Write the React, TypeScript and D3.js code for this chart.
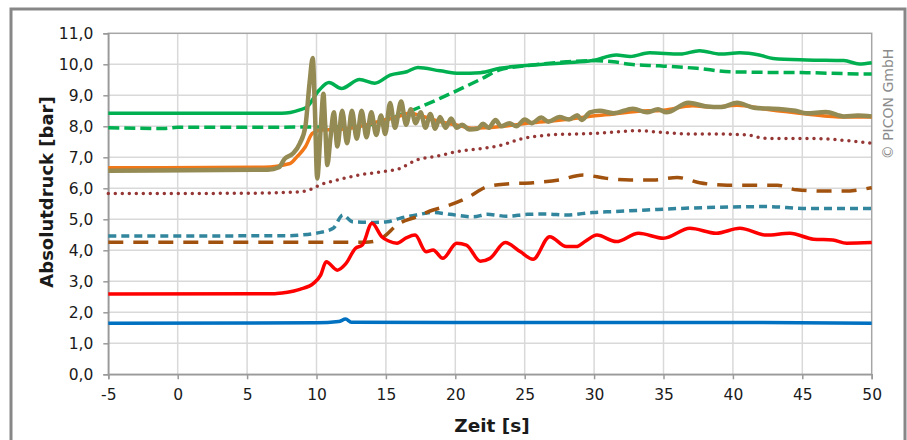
import { useEffect, useRef } from 'react';
import * as d3 from 'd3';

type Pt = [number, number];

// Zeit [s] / Absolutdruck [bar] pairs
const greenSolid: Pt[] = [
  [-5, 8.42], [7.5, 8.42], [8.8, 8.53], [9.3, 8.62], [10.2, 9.17], [10.9, 9.41], [11.8, 9.22],
  [13.1, 9.51], [14.2, 9.39], [15.3, 9.65], [16.5, 9.76], [17.3, 9.9], [18.9, 9.79], [20.3, 9.71],
  [21.8, 9.73], [23.2, 9.87], [25.6, 9.98], [28, 10.05], [29.9, 10.12], [31.6, 10.3], [32.6, 10.25],
  [34, 10.37], [36.2, 10.33], [37.6, 10.44], [39.1, 10.33], [40.5, 10.37], [41.9, 10.3], [42.9, 10.19],
  [45.3, 10.14], [48, 10.12], [49.1, 10.01], [50, 10.05],
];

const greenDashed: Pt[] = [
  [-5, 7.95], [-1, 7.93], [0, 7.97], [5, 7.97], [13.1, 7.99], [14.6, 8.15], [16, 8.36], [17.5, 8.63],
  [18.9, 8.9], [20.3, 9.19], [21.8, 9.51], [23.2, 9.82], [25.6, 9.98], [28, 10.08], [29.9, 10.12],
  [31.4, 10.08], [32.6, 10.0], [34.7, 9.95], [37.4, 9.87], [39.8, 9.76], [42.4, 9.74], [45.3, 9.73],
  [49.3, 9.69], [50, 9.69],
];

const orange: Pt[] = [
  [-5, 6.66], [6.2, 6.68], [8.1, 6.8], [8.6, 7.02], [9.2, 7.34], [9.7, 7.77], [10.3, 7.88], [11.5, 7.9],
  [12.4, 7.94], [13.6, 8.05], [14.8, 8.2], [15.8, 8.3], [16.7, 8.42], [17.8, 8.3], [18.9, 8.15],
  [20, 8.05], [21.3, 7.94], [23.2, 7.99], [25.6, 8.12], [28, 8.22], [29.9, 8.33], [31.4, 8.4],
  [33, 8.48], [35, 8.52], [37.1, 8.66], [38.5, 8.62], [40.3, 8.68], [42.4, 8.55], [45.3, 8.4],
  [48, 8.3], [50, 8.3],
];

const olive: Pt[] = [
  [-5, 6.57], [6.5, 6.6], [7.3, 6.68], [7.7, 6.95], [8.3, 7.12], [8.8, 7.45], [9.2, 8.0], [9.5, 9.4],
  [9.73, 10.2], [9.88, 8.6], [10.05, 6.32], [10.3, 7.9], [10.5, 9.05], [10.62, 8.1], [10.78, 6.75],
  [11.0, 7.6], [11.25, 8.45], [11.5, 7.35], [11.85, 8.5], [12.2, 7.45], [12.55, 8.5], [12.9, 7.6],
  [13.25, 8.5], [13.6, 7.65], [13.95, 8.45], [14.3, 7.72], [14.65, 8.35], [14.95, 7.75], [15.3, 8.75],
  [15.65, 7.95], [16.1, 8.8], [16.45, 8.05], [16.8, 8.55], [17.15, 8.1], [17.5, 8.45], [17.85, 7.95],
  [18.2, 8.4], [18.55, 7.92], [18.9, 8.3], [19.3, 7.95], [19.7, 8.25], [20.1, 7.95], [20.5, 8.05],
  [21.0, 7.9], [21.6, 7.92], [22.0, 8.08], [22.4, 7.95], [22.9, 8.2], [23.3, 8.0], [23.9, 8.1],
  [24.4, 8.0], [25.0, 8.22], [25.5, 8.1], [26.2, 8.28], [26.7, 8.15], [27.5, 8.3], [28.2, 8.22],
  [28.8, 8.36], [29.1, 8.2], [29.7, 8.45], [30.4, 8.5], [31.4, 8.42], [32.8, 8.57], [33.8, 8.45],
  [34.6, 8.55], [35.2, 8.45], [36.8, 8.76], [38, 8.65], [39.2, 8.62], [40.3, 8.76], [41.5, 8.6],
  [43.5, 8.55], [44.5, 8.5], [45.3, 8.42], [46.7, 8.46], [48, 8.32], [49, 8.35], [50, 8.32],
];

const darkRedDotted: Pt[] = [
  [-5, 5.83], [5, 5.84], [8.5, 5.88], [9.5, 5.95], [10.2, 6.1], [11.5, 6.27], [13.1, 6.43],
  [14.8, 6.54], [16, 6.64], [17.2, 6.91], [18.7, 7.04], [20.1, 7.18], [22, 7.29], [23.2, 7.38],
  [24.7, 7.59], [26.8, 7.72], [29.9, 7.77], [31.4, 7.81], [33.1, 7.86], [35, 7.8], [36.9, 7.75],
  [39.1, 7.75], [41, 7.72], [42.4, 7.61], [45.3, 7.61], [48.2, 7.54], [50, 7.45],
];

const brownDashed: Pt[] = [
  [-5, 4.26], [13.5, 4.26], [14.6, 4.35], [15.0, 4.49], [15.8, 4.82], [17.2, 5.08], [18.4, 5.3],
  [19.4, 5.43], [20.8, 5.68], [22.3, 6.05], [23.7, 6.14], [25.6, 6.18], [27.5, 6.27], [29.2, 6.43],
  [30.9, 6.32], [32.6, 6.27], [34.3, 6.27], [36, 6.35], [37.6, 6.18], [39.6, 6.1], [41.4, 6.1],
  [43.2, 6.1], [44.6, 5.95], [46.5, 5.91], [48, 5.91], [50, 6.02],
];

const tealDashed: Pt[] = [
  [-5, 4.46], [8, 4.47], [8.8, 4.49], [10.2, 4.57], [11.2, 4.71], [11.9, 5.14], [12.6, 4.92],
  [14.1, 4.9], [15.1, 4.92], [16, 5.03], [17.2, 5.14], [18.4, 5.22], [19.6, 5.16], [21.3, 5.08],
  [22.3, 5.16], [23.7, 5.1], [25.2, 5.16], [26.6, 5.17], [28, 5.14], [29.9, 5.22], [31.4, 5.25],
  [33.8, 5.3], [36.2, 5.35], [39.1, 5.39], [42.4, 5.41], [45.3, 5.35], [50, 5.35],
];

const red: Pt[] = [
  [-5, 2.59], [7, 2.6], [7.8, 2.64], [8.8, 2.74], [9.8, 2.94], [10.3, 3.2], [10.7, 3.63], [11.5, 3.36],
  [12.1, 3.56], [12.8, 4.06], [13.3, 4.17], [14, 4.87], [14.7, 4.44], [15.2, 4.3], [15.8, 4.23],
  [16.5, 4.41], [17.1, 4.49], [17.9, 3.95], [18.4, 4.01], [19.1, 3.74], [20.1, 4.23], [20.8, 4.17],
  [21.8, 3.65], [22.5, 3.74], [23.6, 4.25], [24.7, 3.95], [25.6, 3.71], [26.8, 4.44], [28, 4.12],
  [28.7, 4.12], [29.4, 4.3], [30.2, 4.49], [31.6, 4.28], [33.2, 4.55], [35, 4.39], [36.9, 4.71],
  [38.8, 4.55], [40.5, 4.71], [42.4, 4.49], [44.1, 4.55], [45.8, 4.36], [47.2, 4.33], [48.2, 4.23],
  [50, 4.25],
];

const blue: Pt[] = [
  [-5, 1.65], [10, 1.66], [11.6, 1.7], [12.1, 1.78], [12.5, 1.68], [20, 1.67], [30, 1.67], [40, 1.67],
  [50, 1.65],
];

const xTicks = [-5, 0, 5, 10, 15, 20, 25, 30, 35, 40, 45, 50];
const yTicks = [0, 1, 2, 3, 4, 5, 6, 7, 8, 9, 10, 11];

const W = 907;
const H = 440;
const FONT = '"DejaVu Sans", Verdana, sans-serif';

export default function App() {
  const svgRef = useRef<SVGSVGElement>(null);

  useEffect(() => {
    if (!svgRef.current) return;
    const svg = d3.select(svgRef.current);
    svg.selectAll('*').remove();

    const margin = { top: 33.3, right: W - 871.7, bottom: H - 374.3, left: 108.3 };
    const innerWidth = W - margin.left - margin.right;
    const innerHeight = H - margin.top - margin.bottom;

    // outer frame
    svg.append('rect')
      .attr('x', 11).attr('y', 9)
      .attr('width', 894).attr('height', 440)
      .attr('fill', '#fff')
      .attr('stroke', '#878787')
      .attr('stroke-width', 3);

    const g = svg.append('g').attr('transform', `translate(${margin.left},${margin.top})`);

    const x = d3.scaleLinear().domain([-5, 50]).range([0, innerWidth]);
    const y = d3.scaleLinear().domain([0, 11]).range([innerHeight, 0]);

    // Gridlines
    g.append('g')
      .selectAll('line')
      .data(yTicks.slice(1, -1))
      .join('line')
      .attr('x1', 0).attr('x2', innerWidth)
      .attr('y1', (d) => y(d)).attr('y2', (d) => y(d))
      .attr('stroke', '#d9d9d9').attr('stroke-width', 1.5);
    g.append('g')
      .selectAll('line')
      .data(xTicks.slice(1, -1))
      .join('line')
      .attr('y1', 0).attr('y2', innerHeight)
      .attr('x1', (d) => x(d)).attr('x2', (d) => x(d))
      .attr('stroke', '#d9d9d9').attr('stroke-width', 1.5);

    // plot border
    g.append('rect')
      .attr('width', innerWidth).attr('height', innerHeight)
      .attr('fill', 'none').attr('stroke', '#a6a6a6').attr('stroke-width', 1.5);

    // Axes
    g.append('g')
      .call(d3.axisLeft(y).tickValues(yTicks).tickSize(5).tickPadding(10)
        .tickFormat((d) => d3.format('.1f')(d as number).replace('.', ',')))
      .call((ax) => ax.select('.domain').attr('stroke', '#9a9a9a').attr('stroke-width', 1.5))
      .call((ax) => ax.selectAll('.tick line').attr('stroke', '#9a9a9a').attr('stroke-width', 1.5))
      .call((ax) => ax.selectAll('.tick text')
        .attr('fill', '#1a1a1a').attr('font-size', '15.5px').attr('font-family', FONT));

    g.append('g')
      .attr('transform', `translate(0,${innerHeight})`)
      .call(d3.axisBottom(x).tickValues(xTicks).tickSize(5).tickPadding(10).tickFormat((d) => String(d)))
      .call((ax) => ax.select('.domain').attr('stroke', '#9a9a9a').attr('stroke-width', 1.5))
      .call((ax) => ax.selectAll('.tick line').attr('stroke', '#9a9a9a').attr('stroke-width', 1.5))
      .call((ax) => ax.selectAll('.tick text')
        .attr('fill', '#1a1a1a').attr('font-size', '15.5px').attr('font-family', FONT));

    // Series
    const line = d3.line<Pt>()
      .x((d) => x(d[0]))
      .y((d) => y(d[1]))
      .curve(d3.curveMonotoneX);

    const series: { data: Pt[]; stroke: string; width: number; dash?: string; cap?: string }[] = [
      { data: tealDashed, stroke: '#31859c', width: 3.5, dash: '8,5' },
      { data: brownDashed, stroke: '#a0520e', width: 3.5, dash: '15,10' },
      { data: darkRedDotted, stroke: '#953735', width: 3.5, dash: '0,7', cap: 'round' },
      { data: blue, stroke: '#0070c0', width: 3.5 },
      { data: red, stroke: '#ff0000', width: 3.5 },
      { data: greenDashed, stroke: '#00b050', width: 3.5, dash: '11,5' },
      { data: greenSolid, stroke: '#00b050', width: 3.5 },
      { data: orange, stroke: '#f07818', width: 3.5 },
      { data: olive, stroke: '#948a54', width: 4.5 },
    ];

    g.append('g')
      .selectAll('path')
      .data(series)
      .join('path')
      .attr('d', (s) => line(s.data))
      .attr('fill', 'none')
      .attr('stroke', (s) => s.stroke)
      .attr('stroke-width', (s) => s.width)
      .attr('stroke-dasharray', (s) => s.dash ?? null)
      .attr('stroke-linecap', (s) => s.cap ?? 'butt')
      .attr('stroke-linejoin', 'round');

    // Axis titles
    svg.append('text')
      .attr('x', 492)
      .attr('y', 432)
      .attr('text-anchor', 'middle')
      .attr('font-family', FONT)
      .attr('font-weight', 'bold')
      .attr('font-size', '18.5px')
      .attr('fill', '#1a1a1a')
      .text('Zeit [s]');

    svg.append('text')
      .attr('transform', `translate(53,${192}) rotate(-90)`)
      .attr('text-anchor', 'middle')
      .attr('font-family', FONT)
      .attr('font-weight', 'bold')
      .attr('font-size', '18px')
      .attr('fill', '#1a1a1a')
      .text('Absolutdruck [bar]');

    svg.append('text')
      .attr('transform', `translate(893,${104}) rotate(-90)`)
      .attr('text-anchor', 'middle')
      .attr('font-family', FONT)
      .attr('font-size', '14px')
      .attr('fill', '#8c8c8c')
      .text('© PICON GmbH');
  }, []);

  return (
    <svg
      ref={svgRef}
      width={W}
      height={H}
      style={{ position: 'absolute', left: 0, top: 0, background: '#fff' }}
    />
  );
}
